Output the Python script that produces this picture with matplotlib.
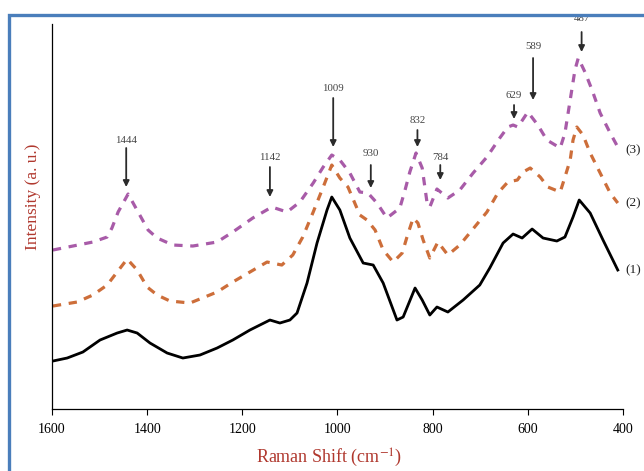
import matplotlib
matplotlib.use("Agg")
import matplotlib.pyplot as plt
from matplotlib.patches import Rectangle

plt.rcParams["mathtext.fontset"] = "stix"

# Raman spectra (wavenumber in cm-1, intensity in arbitrary units, offset per trace)
shift_1 = [1598, 1568, 1535, 1499, 1463, 1442, 1421, 1394, 1358, 1325, 1289, 1253, 1220,
           1184, 1142, 1121, 1100, 1085, 1064, 1043, 1022, 1012, 995, 974, 946, 925,
           904, 875, 862, 837, 822, 806, 791, 768, 736, 701, 680, 652, 631, 612, 591,
           568, 539, 522, 505, 492, 469, 442, 411]
inten_1 = [48, 51, 57, 69, 76, 79, 76, 66, 56, 51, 54, 61, 69,
           79, 89, 86, 89, 96, 126, 166, 199, 212, 199, 171, 146, 144,
           126, 89, 92, 121, 109, 94, 102, 97, 109, 124, 141, 166, 175, 171, 180,
           171, 168, 172, 192, 209, 196, 169, 139]

shift_2 = [1598, 1547, 1514, 1484, 1463, 1442, 1421, 1400, 1379, 1352, 1310, 1253, 1220,
           1184, 1148, 1117, 1094, 1073, 1051, 1030, 1012, 995, 978, 953, 938, 921,
           904, 883, 864, 854, 841, 831, 820, 806, 789, 768, 743, 717, 686, 663, 642,
           622, 610, 595, 574, 558, 532, 522, 511, 505, 497, 484, 469, 448, 427, 411]
inten_2 = [103, 107, 114, 124, 137, 150, 139, 122, 114, 108, 106, 117, 127,
           137, 147, 144, 154, 172, 197, 222, 244, 231, 222, 194, 189, 179,
           159, 147, 156, 172, 191, 186, 169, 151, 167, 154, 164, 179, 197, 216, 227,
           229, 237, 241, 232, 222, 217, 232, 249, 269, 282, 274, 256, 236, 216, 206]

shift_3 = [1598, 1556, 1514, 1484, 1474, 1461, 1440, 1419, 1398, 1379, 1346, 1304, 1253,
           1220, 1178, 1138, 1106, 1079, 1051, 1030, 1012, 995, 974, 953, 936, 917,
           896, 869, 858, 848, 835, 822, 812, 806, 791, 768, 743, 715, 686, 659, 642,
           631, 621, 600, 579, 560, 532, 522, 511, 501, 494, 480, 465, 448, 427, 411]
inten_3 = [159, 163, 167, 172, 181, 197, 215, 197, 179, 171, 164, 163, 167,
           177, 191, 202, 197, 207, 226, 242, 254, 249, 236, 217, 216, 206,
           191, 201, 219, 237, 256, 241, 207, 202, 220, 211, 219, 236, 252, 271, 282,
           284, 282, 297, 284, 269, 261, 276, 309, 339, 351, 337, 319, 296, 276, 262]

# labelled bands: wavenumber, text height, arrow start, arrow tip
peaks = [1444, 1142, 1009, 930, 832, 784, 629, 589, 487]
peak_text_y = [269, 252, 321, 256, 289, 252, 314, 363, 391]
arrow_top = [261, 242, 311, 244, 279, 244, 304, 351, 377]
arrow_tip = [222, 212, 262, 221, 262, 229, 290, 309, 357]

trace_names = ["(1)", "(2)", "(3)"]
trace_label_y = [139, 206, 259]

serif = ["Liberation Serif", "DejaVu Serif"]
red = "#b0382e"

fig = plt.figure(figsize=(6.44, 4.71), dpi=100)
ax = fig.add_axes([0.0807, 0.1316, 0.8867, 0.8174])

ax.plot(shift_1, inten_1, color="black", lw=2.0, solid_joinstyle="round")
ax.plot(shift_2, inten_2, color="#cd6e3a", lw=2.3, dashes=(2.6, 2.4),
        dash_joinstyle="round")
ax.plot(shift_3, inten_3, color="#a85ba8", lw=2.3, dashes=(2.6, 2.4),
        dash_joinstyle="round")

for p, ty, a0, a1 in zip(peaks, peak_text_y, arrow_top, arrow_tip):
    ax.annotate("", xy=(p, a1), xytext=(p, a0),
                arrowprops=dict(arrowstyle="-|>", color="#2b2b2b", lw=1.3,
                                mutation_scale=9, shrinkA=0, shrinkB=0))
    ax.text(p, ty, str(p), ha="center", va="center", fontsize=7.8,
            family=serif, color="#444444", clip_on=False)

for name, ly in zip(trace_names, trace_label_y):
    ax.text(379, ly, name, ha="center", va="center", fontsize=9.5,
            family=serif, color="#222222", clip_on=False)

ax.set_xlim(1600, 400)
ax.set_ylim(0, 385)
ax.set_xticks([1600, 1400, 1200, 1000, 800, 600, 400])
ax.set_yticks([])
ax.tick_params(axis="x", direction="out", length=4, width=0.8, labelsize=10, pad=6)
for lab in ax.get_xticklabels():
    lab.set_family(serif)
ax.spines["top"].set_visible(False)
ax.spines["right"].set_visible(False)
ax.spines["left"].set_linewidth(0.9)
ax.spines["bottom"].set_linewidth(0.9)

ax.set_xlabel("Raman Shift (cm$^{-1}$)", fontsize=13, family=serif, color=red)
ax.xaxis.set_label_coords(0.485, -0.098)
ax.set_ylabel("Intensity (a. u.)", fontsize=12.5, family=serif, color=red)
ax.yaxis.set_label_coords(-0.019, 0.55)

# blue frame around the figure
fig.patches.append(Rectangle((9 / 644, -0.1), 1.2, 1.0 - 15 / 471 + 0.1,
                             transform=fig.transFigure, fill=False,
                             edgecolor="#4a7ebb", lw=2.4))

fig.savefig("out.png", dpi=100)
